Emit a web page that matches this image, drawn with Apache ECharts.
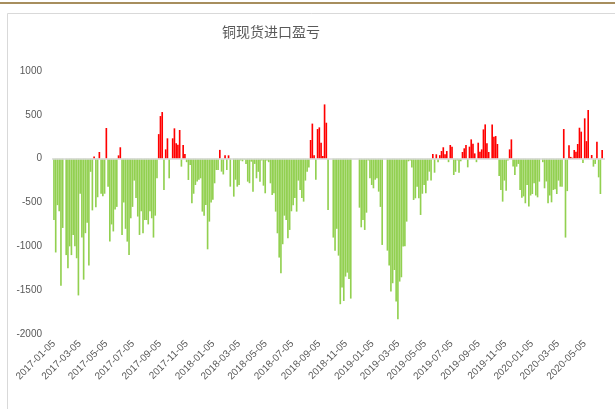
<!DOCTYPE html>
<html>
<head>
<meta charset="utf-8">
<script src="https://cdn.jsdelivr.net/npm/echarts@6/dist/echarts.min.js"></script>
<style>
html, body { margin: 0; padding: 0; background: #fff; }
#chart { width: 615px; height: 409px; }
</style>
</head>
<body>
<div id="chart"></div>
<script>
// date axis, one category per calendar day (like the excel date axis)
var axisStart = '2017-01-01';
var axisEnd = '2020-06-20';
// values, one every 4 days from firstDate
var firstDate = '2017-01-05';
var stepDays = 4;

var v2017 = [-700, -1070, -530, -600, -1450, -790, null, -1100, -1250, -1000,
    -1100, -870, -1000, -1136, -1560, -400, -900, -1380, -850, -730,
    -1220, -150, -590, 25, -555, -440, 76, -400, -430, -400,
    350, -320, -946, -750, -830, -580, -550, 38, 130, -870,
    -500, -800, -946, -1098, -680, -550, -250, -450, -660, -870,
    -600, -850, -700, -700, -750, -600, -680, -900, -650, -224,
    280, 486, 532, -357, 106, 232, -224, null, 232, 346,
    175, 160, 327, -91, 156, 53, -40, -243, -72, -509,
    -400, -300, -260, -240, -224, -604, -650, -528, -1034, -718,
    -500];
var v2018 = [-470, -281, -129, -129, 100, -148, -180, 38, -129, 38,
    -319, null, -433, -240, -319, -300, -20, -30, -10, -60,
    -262, -280, -34, -376, -60, -224, -150, -262, -20, -308,
    -395, -20, -40, -281, -414, -395, -604, -851, -1128, -1307,
    -976, -650, -700, -908, -813, -600, -530, -450, -604, -250,
    -357, -450, -490, -250, -148, -100, 213, 400, 40, -240,
    338, 357, 182, 30, 619, 410, -585, null, null, -900,
    -1049, -800, -1106, -1660, -1470, -1623, -1345, -1300, -1372, -1596,
    null, null, null, null, -559, -783, -700, -813, -616, -20,
    -224];
var v2019 = [-300, -338, -240, -224, -376, -550, -984, null, null, -1049,
    -1220, -1516, -1421, -1270, -1630, -1832, -1402, -1353, -1003, -1000,
    -718, -30, -20, -100, -471, -452, -320, -452, -642, -400,
    -300, -395, -251, -148, -250, 53, -160, 50, -40, 40,
    87, 130, 50, 87, -40, 156, 137, -186, -150, -20,
    -160, -30, 76, 118, 156, -99, 137, 220, 170, 60,
    -40, 182, 80, 106, 334, 391, 175, 76, null, 391,
    250, 258, 167, -198, -357, -490, -250, -365, -20, 106,
    220, -90, -186, -91, -60, -357, -445, -430, -509, -300,
    -547];
var v2020 = [-420, -403, -280, -420, -441, -262, null, -40, -338, -260,
    -509, -420, -498, -357, -350, -403, -250, -319, -319, 338,
    -900, -370, 152, 20, 10, 99, 80, 167, 353, 308,
    -50, 460, 200, 555, null, 42, -91, -60, 194, -213,
    -403, 99];

var yMin = -2000, yMax = 1000, yStep = 500;

var DAY = 86400000;
function ms(s) { return Date.parse(s + 'T00:00:00Z'); }
function pad(n) { return n < 10 ? '0' + n : '' + n; }
function fmt(t) {
    var d = new Date(t);
    return d.getUTCFullYear() + '-' + pad(d.getUTCMonth() + 1) + '-' + pad(d.getUTCDate());
}

var days = [];
for (var t = ms(axisStart); t <= ms(axisEnd); t += DAY) days.push(fmt(t));

var values = v2017.concat(v2018, v2019, v2020);
var barData = days.map(function () { return null; });
var off = Math.round((ms(firstDate) - ms(axisStart)) / DAY);
values.forEach(function (v, k) {
    var idx = off + k * stepDays;
    if (idx < barData.length) barData[idx] = v;
});

var chart = echarts.init(document.getElementById('chart'));
chart.setOption({
    animation: false,
    backgroundColor: '#fff',
    graphic: [
        { type: 'rect', shape: { x: 0, y: 2, width: 615, height: 2 }, style: { fill: '#A78E5E' }, silent: true },
        { type: 'rect', shape: { x: 7.5, y: 13.5, width: 700, height: 500 }, style: { fill: 'none', stroke: '#D9D9D9', lineWidth: 1 }, silent: true }
    ],
    title: {
        text: '铜现货进口盈亏',
        left: 217,
        top: 20,
        textStyle: { fontSize: 14, fontWeight: 'normal', color: '#595959', fontFamily: 'Noto Sans CJK SC' }
    },
    grid: { left: 52, right: 10, top: 71, bottom: 75 },
    xAxis: {
        type: 'category',
        data: days,
        axisLine: { show: false },
        axisTick: { show: false },
        axisLabel: {
            rotate: 45,
            margin: 8,
            fontSize: 10,
            color: '#595959',
            fontFamily: 'Liberation Sans',
            interval: function (i, val) {
                return val.slice(8) === '05' && (+val.slice(5, 7)) % 2 === 1;
            }
        }
    },
    yAxis: {
        type: 'value',
        min: yMin,
        max: yMax,
        interval: yStep,
        axisLine: { show: false },
        axisTick: { show: false },
        splitLine: { show: false },
        axisLabel: {
            fontSize: 10, color: '#595959', margin: 10, fontFamily: 'Liberation Sans',
            formatter: function (v) { return String(v); }
        }
    },
    series: [{
        type: 'bar',
        data: barData,
        barWidth: 1.65,
        itemStyle: {
            color: function (p) { return p.value >= 0 ? '#FF0000' : '#92D050'; }
        },
        markLine: {
            silent: true,
            symbol: 'none',
            label: { show: false },
            lineStyle: { color: '#D9D9D9', type: 'solid', width: 1.5 },
            data: [{ yAxis: 0 }]
        }
    }]
});
</script>
</body>
</html>
